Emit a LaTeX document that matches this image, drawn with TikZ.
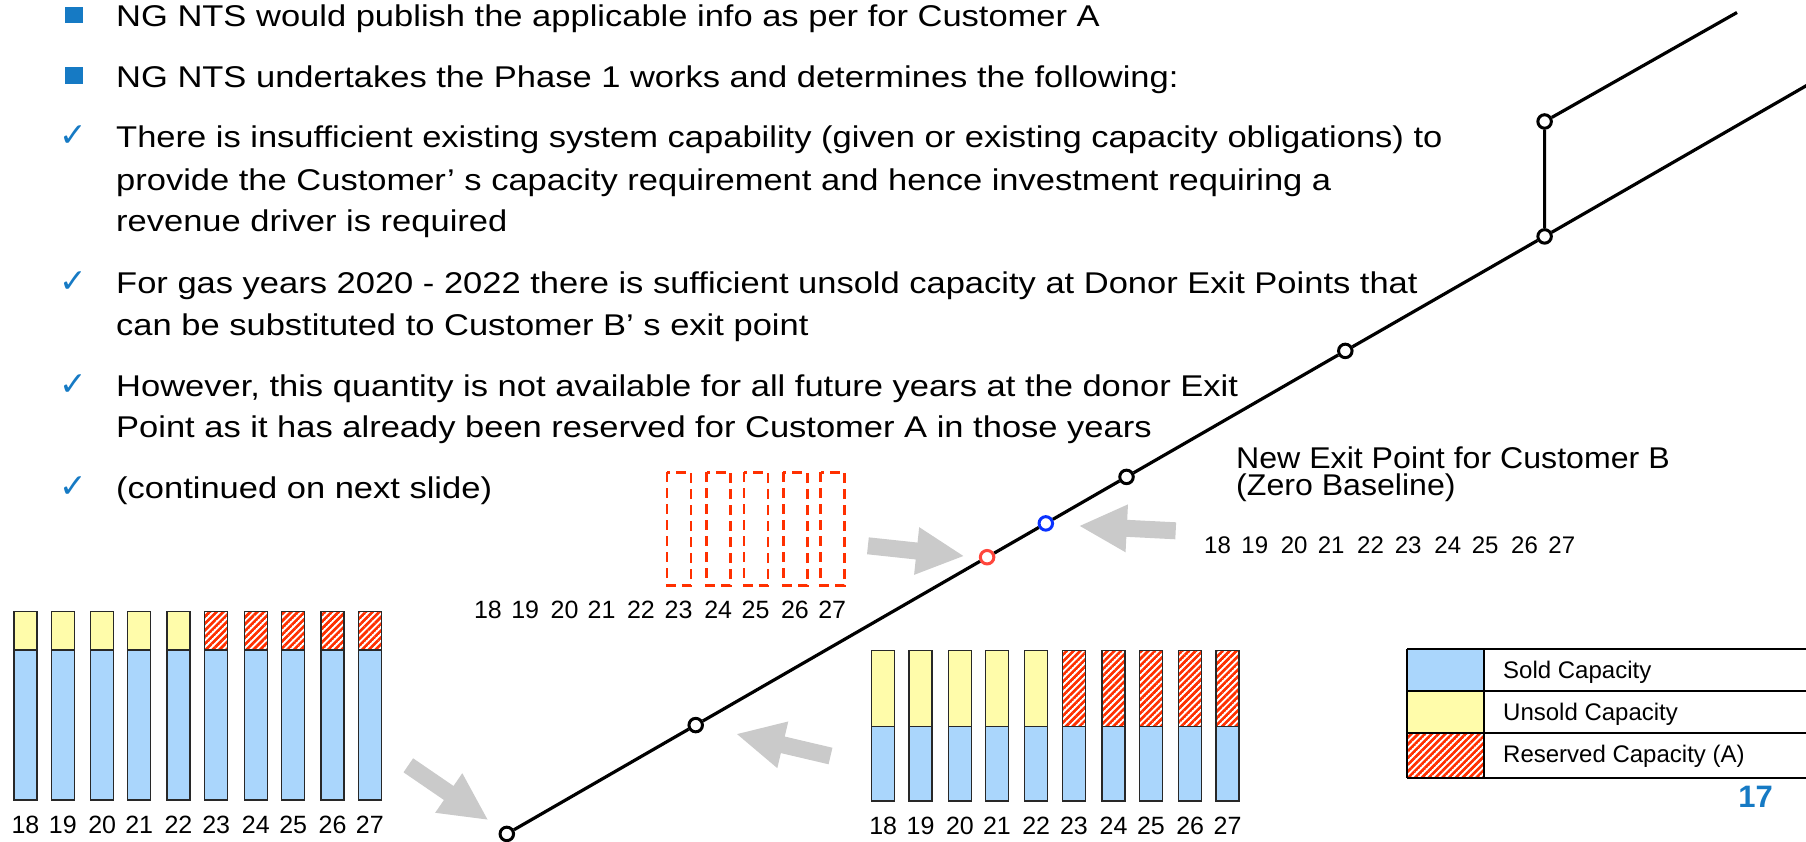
\documentclass[tikz,border=0pt]{standalone}
\usepackage{fontspec}
\setmainfont{Liberation Sans}
\newfontfamily\bodyfont[FakeStretch=1.15]{Liberation Sans}
\newfontfamily\labelfont[FakeStretch=1.07]{Liberation Sans}
\newfontfamily\symbolfont{DejaVu Sans}
\usetikzlibrary{patterns.meta}

\definecolor{soldblue}{RGB}{170,214,252}
\definecolor{unsoldyellow}{RGB}{255,252,170}
\definecolor{hatchred}{RGB}{255,48,0}
\definecolor{barline}{RGB}{40,40,40}
\definecolor{bulletblue}{RGB}{22,122,196}
\definecolor{arrowgray}{RGB}{202,202,202}
\definecolor{ringred}{RGB}{255,70,60}
\definecolor{ringblue}{RGB}{10,50,255}

% diagonal red stripes for reserved capacity
\tikzdeclarepattern{
  name=redhatch,
  bounding box={(0pt,-1.35pt) and (10pt,1.35pt)},
  tile size={(10pt,4.8pt)},
  tile transformation={rotate=45},
  code={\fill (0pt,-1.35pt) rectangle (10pt,1.35pt);}
}

\tikzset{
  pipe/.style={line width=3.2pt, black},
  junction/.style={circle, draw=black, fill=white, line width=3pt, minimum size=13.5pt, inner sep=0pt},
  barframe/.style={draw=barline, line width=1.5pt},
  sold/.style={barframe, fill=soldblue},
  unsold/.style={barframe, fill=unsoldyellow},
  reserved/.style={barframe, preaction={fill=white}, pattern=redhatch, pattern color=hatchred},
  slot/.style={draw=hatchred, line width=2.6pt, dash pattern=on 10pt off 6pt},
  yearlbl/.style={font=\fontsize{25}{25}\selectfont, anchor=base, inner sep=0pt},
  body/.style={font=\bodyfont\fontsize{30}{42}\selectfont, anchor=base west, inner sep=0pt},
  sqmark/.style={rectangle, fill=bulletblue, minimum width=18pt, minimum height=16.5pt, inner sep=0pt},
  chkmark/.style={font=\symbolfont\fontsize{33}{33}\selectfont, text=bulletblue, anchor=base, inner sep=0pt},
  exitlbl/.style={font=\labelfont\fontsize{30}{30}\selectfont, anchor=base west, inner sep=0pt},
  legline/.style={line width=2.4pt, black},
  legtext/.style={font=\fontsize{24}{24}\selectfont, anchor=base west, inner sep=0pt},
  pics/grayarrow/.style={code={
    \fill[arrowgray] (0,-8.5) -- (49,-8.5) -- (49,-24) -- (96,0) -- (49,24) -- (49,8.5) -- (0,8.5) -- cycle;
  }}
}

\begin{document}
\begin{tikzpicture}[x=1pt, y=-1pt]
\useasboundingbox (0,0) rectangle (1806,842);

% ---- bullet text ----
\node[sqmark] (m1) at (74.2,15) {};
\node[body] (t1) at (116,27) {NG NTS would publish the applicable info as per for Customer A};
\node[sqmark] (m2) at (74.2,75.5) {};
\node[body] (t2) at (116,87.5) {NG NTS undertakes the Phase 1 works and determines the following:};

\node[chkmark] (m3) at (73.5,147) {✓};
\node[body] (t3a) at (116,148) {There is insufficient existing system capability (given or existing capacity obligations) to};
\node[body] (t3b) at (116,191) {provide the Customer’ s capacity requirement and hence investment requiring a};
\node[body] (t3c) at (116,232) {revenue driver is required};

\node[chkmark] (m4) at (73.5,292) {✓};
\node[body] (t4a) at (116,293) {For gas years 2020 - 2022 there is sufficient unsold capacity at Donor Exit Points that};
\node[body] (t4b) at (116,335) {can be substituted to Customer B’ s exit point};

\node[chkmark] (m5) at (73.5,395) {✓};
\node[body] (t5a) at (116,396) {However, this quantity is not available for all future years at the donor Exit};
\node[body] (t5b) at (116,437) {Point as it has already been reserved for Customer A in those years};

\node[chkmark] (m6) at (73.5,497) {✓};
\node[body] (t6) at (116,498) {(continued on next slide)};

% ---- capacity bars at the two donor exit points, with year labels ----
\foreach \off/\yr/\tp in {0/18/unsold, 37.3/19/unsold, 76.7/20/unsold, 113.7/21/unsold, 153/22/unsold,
                          190.7/23/reserved, 230.3/24/reserved, 267.7/25/reserved, 307/26/reserved, 344.3/27/reserved}{
  \path[sold] (14+\off,650) rectangle (37+\off,800);
  \path[\tp] (14+\off,611.7) rectangle (37+\off,650);
  \node[yearlbl] (la\yr) at (25.5+\off,833) {\yr};
  \path[sold] (871.7+\off,726.7) rectangle (894.7+\off,801);
  \path[\tp] (871.7+\off,650.7) rectangle (894.7+\off,726.7);
  \node[yearlbl] (lb\yr) at (883.2+\off,834) {\yr};
  \node[yearlbl] (lc\yr) at (487.9+\off,618) {\yr};
  \node[yearlbl, font=\fontsize{24}{24}\selectfont] (ld\yr) at (1217.5+\off,553) {\yr};
}

% ---- requested capacity slots (dashed) ----
\foreach \off in {190.7, 230.3, 267.7, 307, 344.3}{
  \draw[slot] (476.4+\off,472.3) rectangle (500.4+\off,585.7);
}

% ---- network ----
\node[junction] (j1) at (506.8,833.9) {};
\node[junction] (j2) at (695.7,725.1) {};
\node[junction, draw=ringred] (jr) at (987.1,557.2) {};
\node[junction, draw=ringblue] (jb) at (1045.8,523.4) {};
\node[junction] (j5) at (1126.5,476.9) {};
\node[junction] (j6) at (1345.3,350.9) {};
\node[junction] (j7) at (1544.6,236.4) {};
\node[junction] (j8) at (1544.6,121.5) {};
\coordinate (eLow) at (1812,82.4);
\coordinate (eUp) at (1737,12.5);
\draw[pipe] (j1) -- (j2) -- (jr) -- (jb) -- (j5) -- (j6) -- (j7) -- (eLow);
\draw[pipe] (j7) -- (j8) -- (eUp);

% ---- grey pointer arrows ----
\pic[rotate=-34.4] at (408.3,765.3) {grayarrow};
\pic[rotate=166.8] at (830.5,756) {grayarrow};
\pic[rotate=-6.1] at (867.9,545.8) {grayarrow};
\pic[rotate=177.1] at (1175.7,530.8) {grayarrow};

% ---- new exit point label ----
\node[exitlbl] (nx1) at (1236,468) {New Exit Point for Customer B};
\node[exitlbl] (nx2) at (1236,495) {(Zero Baseline)};

% ---- legend ----
\path[fill=soldblue] (1407,649) rectangle (1484,691);
\path[fill=unsoldyellow] (1407,691) rectangle (1484,733);
\path[preaction={fill=white}, pattern=redhatch, pattern color=hatchred] (1407,733) rectangle (1484,778);
\draw[legline] (1407,649) -- (1812,649);
\draw[legline] (1407,691) -- (1812,691);
\draw[legline] (1407,733) -- (1812,733);
\draw[legline] (1407,778) -- (1812,778);
\draw[legline] (1407,649) -- (1407,778);
\draw[legline] (1484,649) -- (1484,778);
\node[legtext] (lg1) at (1503,678.5) {Sold Capacity};
\node[legtext] (lg2) at (1503,720) {Unsold Capacity};
\node[legtext] (lg3) at (1503,762) {Reserved Capacity (A)};

% ---- page number ----
\node[font=\bfseries\fontsize{31}{31}\selectfont, text=bulletblue, anchor=base, inner sep=0pt] (pg) at (1755.5,807) {17};
\end{tikzpicture}
\end{document}
